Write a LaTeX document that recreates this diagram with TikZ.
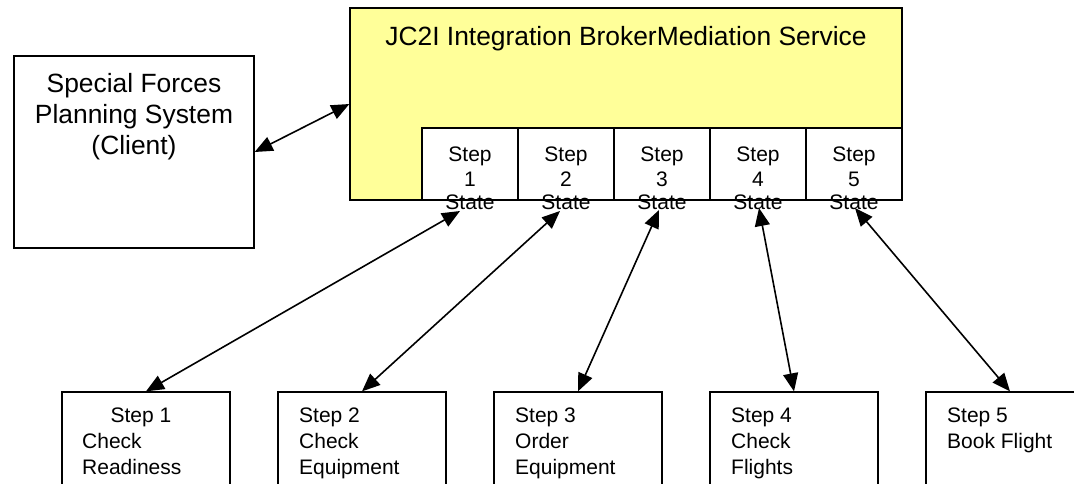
\documentclass[tikz,border=0pt]{standalone}
\usepackage{fontspec}
\setmainfont{Liberation Sans}
\usetikzlibrary{arrows.meta}
\definecolor{brokerfill}{RGB}{255,255,153}
\tikzset{
  box/.style={draw=black, line width=1.3pt, inner sep=0pt, minimum width=#1},
  bigtxt/.style={font=\fontsize{26.4}{31}\selectfont, inner sep=0pt, anchor=base},
  smalltxt/.style={font=\fontsize{21}{25}\selectfont, inner sep=0pt, anchor=base},
  link/.style={line width=1.6pt, {Triangle[length=18pt,width=15pt]}-{Triangle[length=18pt,width=15pt]}}
}
\begin{document}
\begin{tikzpicture}[x=1pt,y=-1pt]
\useasboundingbox (0,0) rectangle (1074,483);
\clip (0,0) rectangle (1074,483);

% client system
\node[box=240pt, minimum height=192pt] (client) at (134,152) {};
\node[bigtxt] (cl1) at (134,92) {Special Forces};
\node[bigtxt] (cl2) at (134,123) {Planning System};
\node[bigtxt] (cl3) at (134,154) {(Client)};

% integration broker
\node[box=552pt, minimum height=192pt, fill=brokerfill] (broker) at (626,104) {};
\node[bigtxt] (title) at (626,45) {JC2I Integration BrokerMediation Service};

\draw[link] (client.east) -- (broker.west);

% step state cells inside the broker
\foreach \i in {1,...,5} {
  \node[box=96pt, minimum height=72pt, fill=white] (s\i) at ({470+96*(\i-1)},164) {};
}
\foreach \i in {1,...,5} {
  \node[smalltxt] (s\i a) at ({470+96*(\i-1)},161) {Step};
  \node[smalltxt] (s\i b) at ({470+96*(\i-1)},186) {\i};
  \node[smalltxt] (s\i c) at ({470+96*(\i-1)},209) {State};
}

% service boxes
\foreach \i in {1,...,5} {
  \node[box=168pt, minimum height=120pt] (b\i) at ({146+216*(\i-1)},452) {};
}
\node[smalltxt] (b1a) at (141,422) {Step 1};
\node[smalltxt, anchor=base west] (b1b) at (82,448) {Check};
\node[smalltxt, anchor=base west] (b1c) at (82,474) {Readiness};
\node[smalltxt, anchor=base west] (b2a) at (299,422) {Step 2};
\node[smalltxt, anchor=base west] (b2b) at (299,448) {Check};
\node[smalltxt, anchor=base west] (b2c) at (299,474) {Equipment};
\node[smalltxt, anchor=base west] (b3a) at (515,422) {Step 3};
\node[smalltxt, anchor=base west] (b3b) at (515,448) {Order};
\node[smalltxt, anchor=base west] (b3c) at (515,474) {Equipment};
\node[smalltxt, anchor=base west] (b4a) at (731,422) {Step 4};
\node[smalltxt, anchor=base west] (b4b) at (731,448) {Check};
\node[smalltxt, anchor=base west] (b4c) at (731,474) {Flights};
\node[smalltxt, anchor=base west] (b5a) at (947,422) {Step 5};
\node[smalltxt, anchor=base west] (b5b) at (947,448) {Book Flight};

% connector ends just below each state cell
\coordinate (t1) at (460,211);
\coordinate (t2) at (560,211);
\coordinate (t3) at (659,210);
\coordinate (t4) at (759,208);
\coordinate (t5) at (855,208);
\foreach \i in {1,...,5} {
  \draw[link] (t\i) -- (b\i.north);
}
\end{tikzpicture}
\end{document}
